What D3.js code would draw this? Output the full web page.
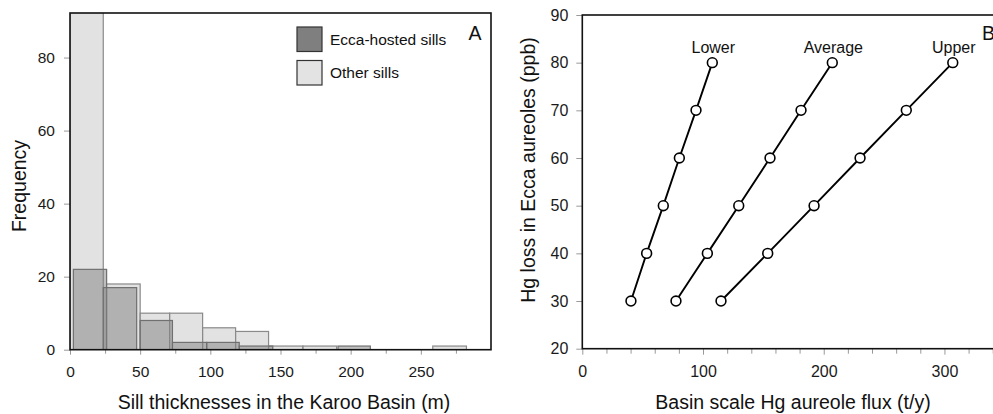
<!DOCTYPE html>
<html>
<head>
<meta charset="utf-8">
<script src="https://cdn.jsdelivr.net/npm/d3@7"></script>
<style>
  body { margin: 0; background: #fff; }
  svg { display: block; font-family: "Liberation Sans", Arial, sans-serif; }
  svg text { font-family: "Liberation Sans", Arial, sans-serif; }
</style>
</head>
<body>
<svg id="chart" width="993" height="414"></svg>
<script>
// --- panel A: sill thickness histograms (bin start, bin end in m, count)
const otherStart = [0, 26, 50, 71, 94.5, 118, 141.5, 166, 258.5];
const otherEnd   = [23.7, 50, 71, 94.5, 118, 141.5, 166, 190, 282.5];
const otherCount = [100, 18, 10, 10, 6, 5, 1, 1, 1];

const eccaStart = [2.4, 23.7, 50, 73, 97.4, 120.6, 191];
const eccaEnd   = [26.1, 47.5, 73, 97.4, 120.6, 144.5, 214];
const eccaCount = [22, 17, 8, 2, 2, 1, 1];

const legendNames = ["Ecca-hosted sills", "Other sills"];
const freqTicks = [0, 20, 40, 60, 80];
const thickTicks = [0, 50, 100, 150, 200, 250];
const thickMinor = [25, 75, 125, 175, 225, 275];

// --- panel B: Hg loss (ppb) vs basin flux (t/y)
const hgLoss      = [30, 40, 50, 60, 70, 80];
const fluxLower   = [40.3, 53.3, 67.1, 80.4, 94.2, 107.7];
const fluxAverage = [77.6, 103.6, 129.6, 155.5, 181.2, 207.1];
const fluxUpper   = [114.9, 153.6, 192, 230.1, 268.4, 306.9];
const seriesNames = ["Lower", "Average", "Upper"];
const hgTicks = [20, 30, 40, 50, 60, 70, 80, 90];
const fluxTicks = [0, 100, 200, 300];
const fluxMinor = [20, 40, 60, 80, 120, 140, 160, 180, 220, 240, 260, 280, 320, 340];

const FONT = "'Liberation Sans', Arial, sans-serif";
const svg = d3.select("#chart");

// ================= panel A =================
const xA = d3.scaleLinear().domain([0, 300]).range([70, 491]);
const yA = d3.scaleLinear().domain([0, 92.2]).range([349.7, 13]);

svg.append("clipPath").attr("id", "clipA")
  .append("rect")
  .attr("x", xA(0)).attr("y", yA(92.2))
  .attr("width", xA(300) - xA(0)).attr("height", yA(0) - yA(92.2));

const bars = svg.append("g").attr("clip-path", "url(#clipA)");

const otherBins = otherStart.map((s, i) => ({ x0: s, x1: otherEnd[i], n: otherCount[i] }));
const eccaBins = eccaStart.map((s, i) => ({ x0: s, x1: eccaEnd[i], n: eccaCount[i] }));

bars.selectAll(".other")
  .data(otherBins)
  .enter().append("rect")
  .attr("class", "other")
  .attr("x", d => xA(d.x0))
  .attr("width", d => xA(d.x1) - xA(d.x0))
  .attr("y", d => yA(d.n))
  .attr("height", d => yA(0) - yA(d.n))
  .attr("fill", "#d6d6d6")
  .attr("fill-opacity", 0.7)
  .attr("stroke", "#8a8a8a")
  .attr("stroke-width", 1.2);

bars.selectAll(".ecca")
  .data(eccaBins)
  .enter().append("rect")
  .attr("class", "ecca")
  .attr("x", d => xA(d.x0))
  .attr("width", d => xA(d.x1) - xA(d.x0))
  .attr("y", d => yA(d.n))
  .attr("height", d => yA(0) - yA(d.n))
  .attr("fill", "#7f7f7f")
  .attr("fill-opacity", 0.5)
  .attr("stroke", "#707070")
  .attr("stroke-width", 1.2);

// axes A
const axA_y = svg.append("g")
  .attr("transform", `translate(${xA(0)},0)`)
  .call(d3.axisLeft(yA).tickValues(freqTicks).tickSize(6).tickPadding(9));
const axA_x = svg.append("g")
  .attr("transform", `translate(0,${yA(0)})`)
  .call(d3.axisBottom(xA).tickValues(thickTicks).tickSize(5).tickPadding(11));
svg.append("g")
  .attr("transform", `translate(0,${yA(0)})`)
  .call(d3.axisBottom(xA).tickValues(thickMinor).tickSize(4).tickFormat(""))
  .call(g => g.select(".domain").remove())
  .selectAll("line").attr("stroke", "#999");

[axA_y, axA_x].forEach(g => {
  g.attr("font-family", FONT);
  g.select(".domain").remove();
  g.selectAll("line").attr("stroke", "#999");
  g.selectAll("text").attr("font-size", 15.5).attr("fill", "#1a1a1a");
});

// frame A
svg.append("rect")
  .attr("x", xA(0)).attr("y", yA(92.2))
  .attr("width", xA(300) - xA(0)).attr("height", yA(0) - yA(92.2))
  .attr("fill", "none").attr("stroke", "#111").attr("stroke-width", 1.6);

// legend A
const legFill = ["#7f7f7f", "#e3e3e3"];
const leg = svg.append("g").attr("transform", "translate(297,27)");
legendNames.forEach((name, i) => {
  const row = leg.append("g").attr("transform", `translate(0,${i * 33.5})`);
  row.append("rect")
    .attr("width", 25).attr("height", 24.5)
    .attr("fill", legFill[i]).attr("stroke", "#333").attr("stroke-width", 1.2);
  row.append("text")
    .attr("x", 33).attr("y", 12.5).attr("dy", "0.35em")
    .attr("font-size", 15.5).attr("fill", "#111")
    .text(name);
});

svg.append("text")
  .attr("x", 475).attr("y", 33).attr("dy", "0.35em")
  .attr("text-anchor", "middle").attr("font-size", 19.5).attr("fill", "#111")
  .text("A");

svg.append("text")
  .attr("x", 284).attr("y", 402).attr("dy", "0.35em")
  .attr("text-anchor", "middle").attr("font-size", 19.5).attr("fill", "#111")
  .text("Sill thicknesses in the Karoo Basin (m)");

svg.append("text")
  .attr("transform", "translate(19,186) rotate(-90)")
  .attr("dy", "0.35em")
  .attr("text-anchor", "middle").attr("font-size", 19.5).attr("fill", "#111")
  .text("Frequency");

// ================= panel B =================
const xB = d3.scaleLinear().domain([0, 350]).range([582.3, 1004.8]);
const yB = d3.scaleLinear().domain([20, 90]).range([348.7, 15]);

const axB_y = svg.append("g")
  .attr("transform", `translate(${xB(0)},0)`)
  .call(d3.axisLeft(yB).tickValues(hgTicks).tickSize(6).tickPadding(8));
const axB_x = svg.append("g")
  .attr("transform", `translate(0,${yB(20)})`)
  .call(d3.axisBottom(xB).tickValues(fluxTicks).tickSize(6).tickPadding(11));
svg.append("g")
  .attr("transform", `translate(0,${yB(20)})`)
  .call(d3.axisBottom(xB).tickValues(fluxMinor).tickSize(5).tickFormat(""))
  .call(g => g.select(".domain").remove())
  .selectAll("line").attr("stroke", "#999");

[axB_y, axB_x].forEach(g => {
  g.attr("font-family", FONT);
  g.select(".domain").remove();
  g.selectAll("line").attr("stroke", "#999");
  g.selectAll("text").attr("font-size", 16).attr("fill", "#1a1a1a");
});

svg.append("rect")
  .attr("x", xB(0)).attr("y", yB(90))
  .attr("width", xB(350) - xB(0)).attr("height", yB(20) - yB(90))
  .attr("fill", "none").attr("stroke", "#111").attr("stroke-width", 1.6);

const seriesData = [fluxLower, fluxAverage, fluxUpper].map((flux, k) => ({
  name: seriesNames[k],
  pts: flux.map((f, i) => ({ f: f, hg: hgLoss[i] }))
}));

const line = d3.line().x(d => xB(d.f)).y(d => yB(d.hg));

const series = svg.selectAll(".series")
  .data(seriesData)
  .enter().append("g")
  .attr("class", "series");

series.append("path")
  .attr("d", d => line(d.pts))
  .attr("fill", "none")
  .attr("stroke", "#000")
  .attr("stroke-width", 1.9);

series.selectAll("circle")
  .data(d => d.pts)
  .enter().append("circle")
  .attr("cx", d => xB(d.f))
  .attr("cy", d => yB(d.hg))
  .attr("r", 4.9)
  .attr("fill", "#fff")
  .attr("stroke", "#000")
  .attr("stroke-width", 1.6);

series.append("text")
  .attr("x", d => xB(d.pts[d.pts.length - 1].f) + 1)
  .attr("y", d => yB(d.pts[d.pts.length - 1].hg) - 15.5)
  .attr("dy", "0.35em")
  .attr("text-anchor", "middle")
  .attr("font-size", 16)
  .attr("fill", "#111")
  .text(d => d.name);

svg.append("text")
  .attr("x", 982).attr("y", 33).attr("dy", "0.35em")
  .attr("font-size", 19.5).attr("fill", "#111")
  .text("B");

svg.append("text")
  .attr("x", 793).attr("y", 402).attr("dy", "0.35em")
  .attr("text-anchor", "middle").attr("font-size", 19.5).attr("fill", "#111")
  .text("Basin scale Hg aureole flux (t/y)");

svg.append("text")
  .attr("transform", "translate(528,170) rotate(-90)")
  .attr("dy", "0.35em")
  .attr("text-anchor", "middle").attr("font-size", 19.5).attr("fill", "#111")
  .text("Hg loss in Ecca aureoles (ppb)");
</script>
</body>
</html>
